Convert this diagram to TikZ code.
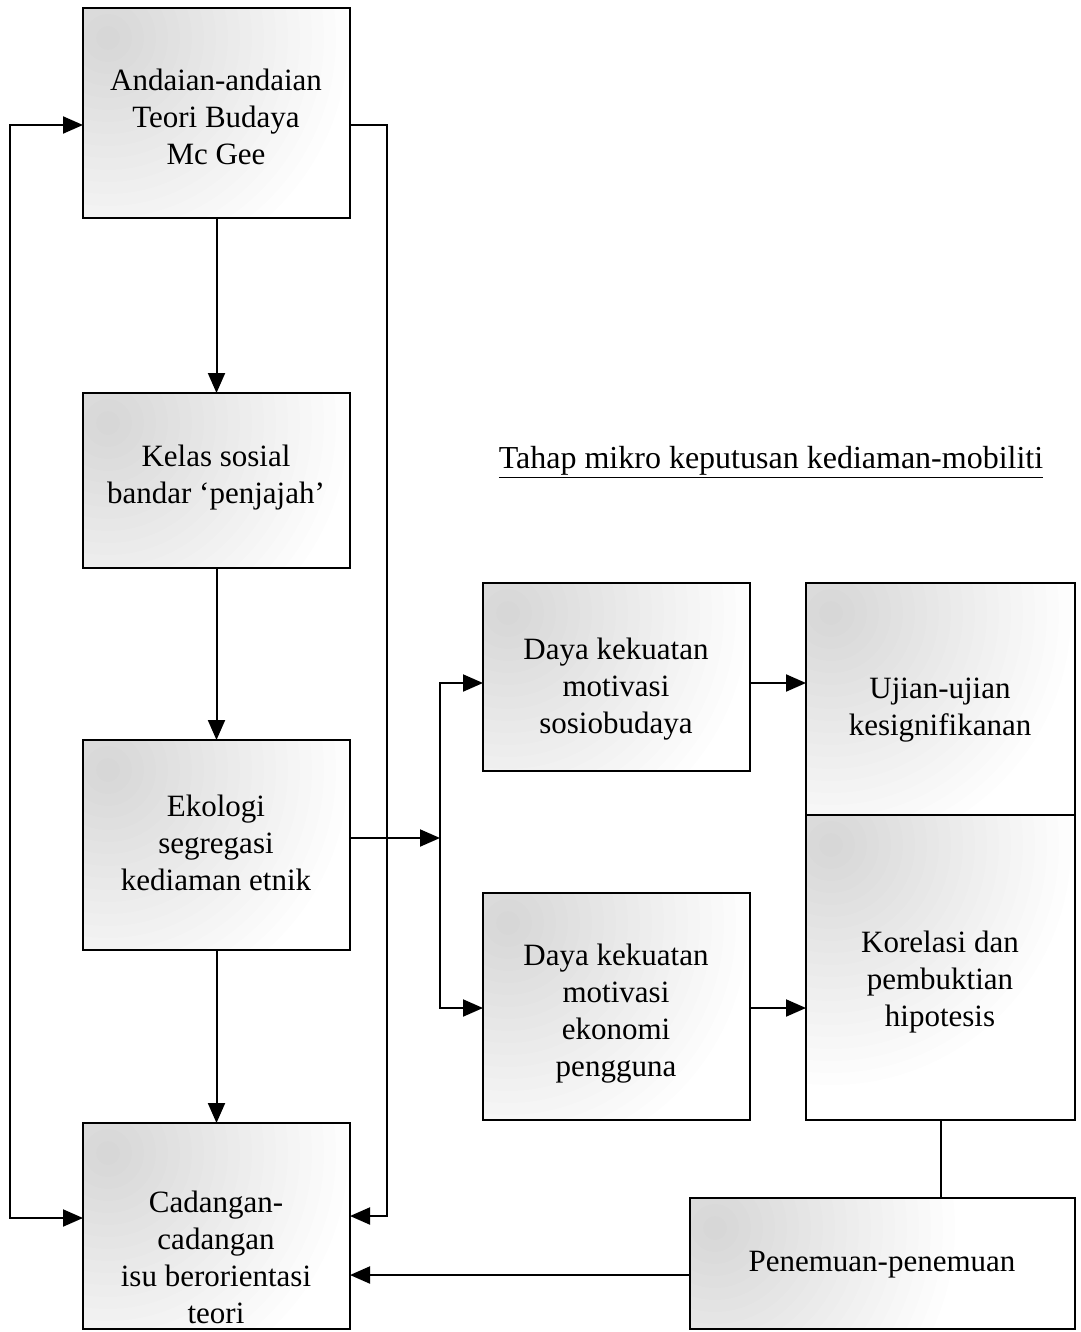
\documentclass[tikz,border=0pt]{standalone}
\usepackage{fontspec}
\setmainfont{Liberation Serif}
\usetikzlibrary{arrows.meta,calc}
\tikzset{
  box/.style={draw, line width=2pt, inner sep=0pt, outer sep=0pt, anchor=north west,
    path picture={\foreach \r in {240,228,...,12}
      \fill[black, opacity=0.008] ([xshift=25pt,yshift=-30pt]path picture bounding box.north west) circle (\r pt);}},
  txt/.style={align=center, font=\fontsize{31}{37}\selectfont, inner sep=0pt},
  conn/.style={line width=2pt},
  arr/.style={conn, -{Triangle[length=20pt,width=17pt]}},
  darr/.style={conn, {Triangle[length=20pt,width=17pt]}-{Triangle[length=20pt,width=17pt]}}
}
\begin{document}
\begin{tikzpicture}[x=1pt,y=-1pt]
\useasboundingbox[fill=white] (0,0) rectangle (1080,1332);
% boxes
\node[box, minimum width=267pt, minimum height=210pt] (b1) at (83,8) {};
\node[box, minimum width=267pt, minimum height=175pt] (b2) at (83,393) {};
\node[box, minimum width=267pt, minimum height=210pt] (b3) at (83,740) {};
\node[box, minimum width=267pt, minimum height=206pt] (b4) at (83,1123) {};
\node[box, minimum width=267pt, minimum height=188pt] (b5) at (483,583) {};
\node[box, minimum width=267pt, minimum height=227pt] (b6) at (483,893) {};
\node[box, minimum width=269pt, minimum height=232pt] (b7) at (806,583) {};
\node[box, minimum width=269pt, minimum height=305pt] (b8) at (806,815) {};
\node[box, minimum width=385pt, minimum height=131pt] (b9) at (690,1198) {};
% texts
\node[txt] (t1) at (216,117) {Andaian-andaian\\Teori Budaya\\Mc Gee};
\node[txt] (t2) at (216,478) {Kelas sosial\\bandar `penjajah'};
\node[txt] (t3) at (216,843) {Ekologi\\segregasi\\kediaman etnik};
\node[txt] (t4) at (216,1257) {Cadangan-\\cadangan\\isu berorientasi\\teori};
\node[txt] (t5) at (616,689) {Daya kekuatan\\motivasi\\sosiobudaya};
\node[txt] (t6) at (616,1014) {Daya kekuatan\\motivasi\\ekonomi\\pengguna};
\node[txt] (t7) at (940,710) {Ujian-ujian\\kesignifikanan};
\node[txt] (t8) at (940,982) {Korelasi dan\\pembuktian\\hipotesis};
\node[txt] (t9) at (882,1265) {Penemuan-penemuan};
\node[txt, font=\fontsize{32}{37}\selectfont] (title) at (771,462) {\underline{Tahap mikro keputusan kediaman-mobiliti}};
% coordinates
\coordinate (L1) at (10,125);
\coordinate (L2) at (10,1218);
\coordinate (R1) at (387,125);
\coordinate (R2) at (387,1216);
\coordinate (P) at (690,1275);
\coordinate (S) at (440,838);
\coordinate (S1) at (440,683);
\coordinate (S2) at (440,1008);
% connectors
\draw[arr] (b1.south) -- (b2.north);
\draw[arr] (b2.south) -- (b3.north);
\draw[arr] (b3.south) -- (b4.north);
\draw[darr] (b1.west |- L1) -- (L1) -- (L2) -- (b4.west |- L2);
\draw[arr] (b1.east |- R1) -- (R1) -- (R2) -- (b4.east |- R2);
\draw[arr] (b9.west |- P) -- (b4.east |- P);
\draw[arr] (b3.east |- S) -- (S);
\draw[darr] (b5.west |- S1) -- (S1) -- (S2) -- (b6.west |- S2);
\draw[arr] (b5.east |- S1) -- (b7.west |- S1);
\draw[arr] (b6.east |- S2) -- (b8.west |- S2);
\draw[conn] (b8.south) -- (b9.north -| b8.south);
\end{tikzpicture}
\end{document}
